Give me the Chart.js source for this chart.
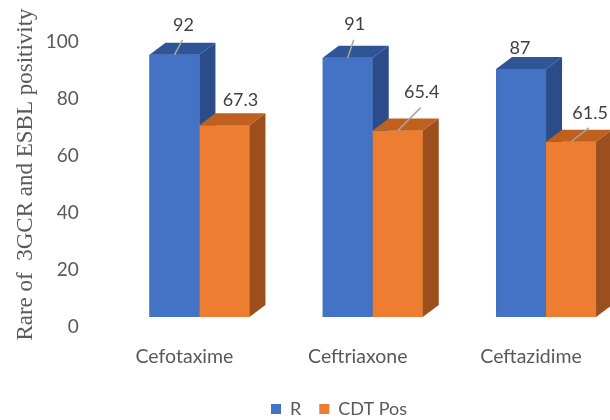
<!DOCTYPE html>
<html><head><meta charset="utf-8">
<script src="https://cdn.jsdelivr.net/npm/chart.js@4/dist/chart.umd.min.js"></script>
<style>
html,body{margin:0;padding:0;background:#fff;overflow:hidden}
#wrap{width:610px;height:420px;overflow:hidden;position:relative}
canvas{display:block}
</style>
</head><body>
<div id="wrap"><canvas id="c" width="650" height="420" style="width:650px;height:420px"></canvas></div>
<script>
// ---- data ----
const categories = ['Cefotaxime', 'Ceftriaxone', 'Ceftazidime'];
const seriesNames = ['R', 'CDT Pos'];
const rValues = [92, 91, 87];
const cdtValues = [67.3, 65.4, 61.5];
const yTickMin = 0, yTickMax = 100, yTickStep = 20;
const yTitle = 'Rare of  3GCR and ESBL positivity';

// ---- label placement (relative to each bar's top face) ----
const rLabelShift = [[1, -24, true], [-1, -27, true], [-9, -15, false]];
const cdtLabelShift = [[8, -19, false], [16, -32, true], [11, -23, true]];

const DX = 16, DY = -12;
const FONT = 'Lato';

function poly(ctx, pts, color) {
  ctx.beginPath();
  ctx.moveTo(pts[0][0], pts[0][1]);
  for (let i = 1; i < pts.length; i++) ctx.lineTo(pts[i][0], pts[i][1]);
  ctx.closePath();
  ctx.fillStyle = color;
  ctx.fill();
}

const bar3d = {
  id: 'bar3d',
  afterDatasetsDraw(chart) {
    const ctx = chart.ctx;
    ctx.save();
    chart.data.datasets.forEach((ds, di) => {
      chart.getDatasetMeta(di).data.forEach(bar => {
        const p = bar.getProps(['x', 'y', 'base', 'width'], true);
        const l = p.x - p.width / 2, r = p.x + p.width / 2;
        poly(ctx, [[l, p.y], [r, p.y], [r, p.base], [l, p.base]], ds.backgroundColor);
        poly(ctx, [[l, p.y], [r, p.y], [r + DX, p.y + DY], [l + DX, p.y + DY]], ds.topColor);
        poly(ctx, [[r, p.y], [r + DX, p.y + DY], [r + DX, p.base + DY], [r, p.base]], ds.sideColor);
      });
    });
    ctx.restore();
  }
};

const valueLabels = {
  id: 'valueLabels',
  afterDatasetsDraw(chart) {
    const ctx = chart.ctx;
    ctx.save();
    chart.data.datasets.forEach((ds, di) => {
      const meta = chart.getDatasetMeta(di);
      meta.data.forEach((bar, i) => {
        const p = bar.getProps(['x', 'y', 'width'], true);
        const sh = ds.labelShift[i];
        const cx = p.x + DX / 2, cy = p.y + DY / 2;
        const lx = cx + sh[0], ly = cy + sh[1];
        if (sh[2]) {
          ctx.strokeStyle = '#A6A6A6';
          ctx.lineWidth = 1.5;
          ctx.beginPath();
          ctx.moveTo(p.x, p.y);
          ctx.lineTo(lx - 1, ly + 15);
          ctx.stroke();
        }
        ctx.fillStyle = '#404040';
        ctx.font = '18px ' + FONT;
        ctx.textAlign = 'center';
        ctx.textBaseline = 'middle';
        ctx.fillText(String(ds.data[i]), lx, ly);
      });
    });
    ctx.restore();
  }
};

const PAD_BOTTOM = -8;

new Chart(document.getElementById('c'), {
  type: 'bar',
  data: {
    labels: categories,
    datasets: [
      { label: seriesNames[0], data: rValues, backgroundColor: '#4472C4', topColor: '#2F5597', sideColor: '#2B4C89', labelShift: rLabelShift, barPercentage: 1, categoryPercentage: 0.577 },
      { label: seriesNames[1], data: cdtValues, backgroundColor: '#ED7D31', topColor: '#C0601E', sideColor: '#9C4F1D', labelShift: cdtLabelShift, barPercentage: 1, categoryPercentage: 0.577 }
    ]
  },
  options: {
    responsive: false,
    animation: false,
    events: [],
    layout: { padding: { left: 45.3, right: 17.3, top: 32, bottom: PAD_BOTTOM } },
    plugins: {
      legend: {
        position: 'bottom',
        labels: { boxWidth: 10, boxHeight: 10, padding: 18, color: '#595959', font: { family: FONT, size: 18 } }
      },
      tooltip: { enabled: false }
    },
    scales: {
      x: {
        grid: { display: false, drawTicks: false },
        border: { display: false },
        ticks: { color: '#595959', font: { family: FONT, size: 19.5 }, padding: 28, labelOffset: -15, maxRotation: 0 },
        afterFit: s => { s.height = 420 - 317 - s.chart.legend.height - PAD_BOTTOM; s.paddingLeft = 0; s.paddingRight = 0; }
      },
      y: {
        min: yTickMin, max: yTickMax,
        grid: { display: false, drawTicks: false },
        border: { display: false },
        ticks: { stepSize: yTickStep, color: '#595959', font: { family: FONT, size: 19 }, padding: 34, labelOffset: 10 },
        title: { display: true, text: yTitle, color: '#595959', font: { family: 'Liberation Serif', size: 23 }, padding: { top: -33, bottom: 0 } },
        afterFit: s => { s.width = 67.5; s.paddingTop = 0; s.paddingBottom = 0; }
      }
    }
  },
  plugins: [bar3d, valueLabels]
});
</script>
</body></html>
